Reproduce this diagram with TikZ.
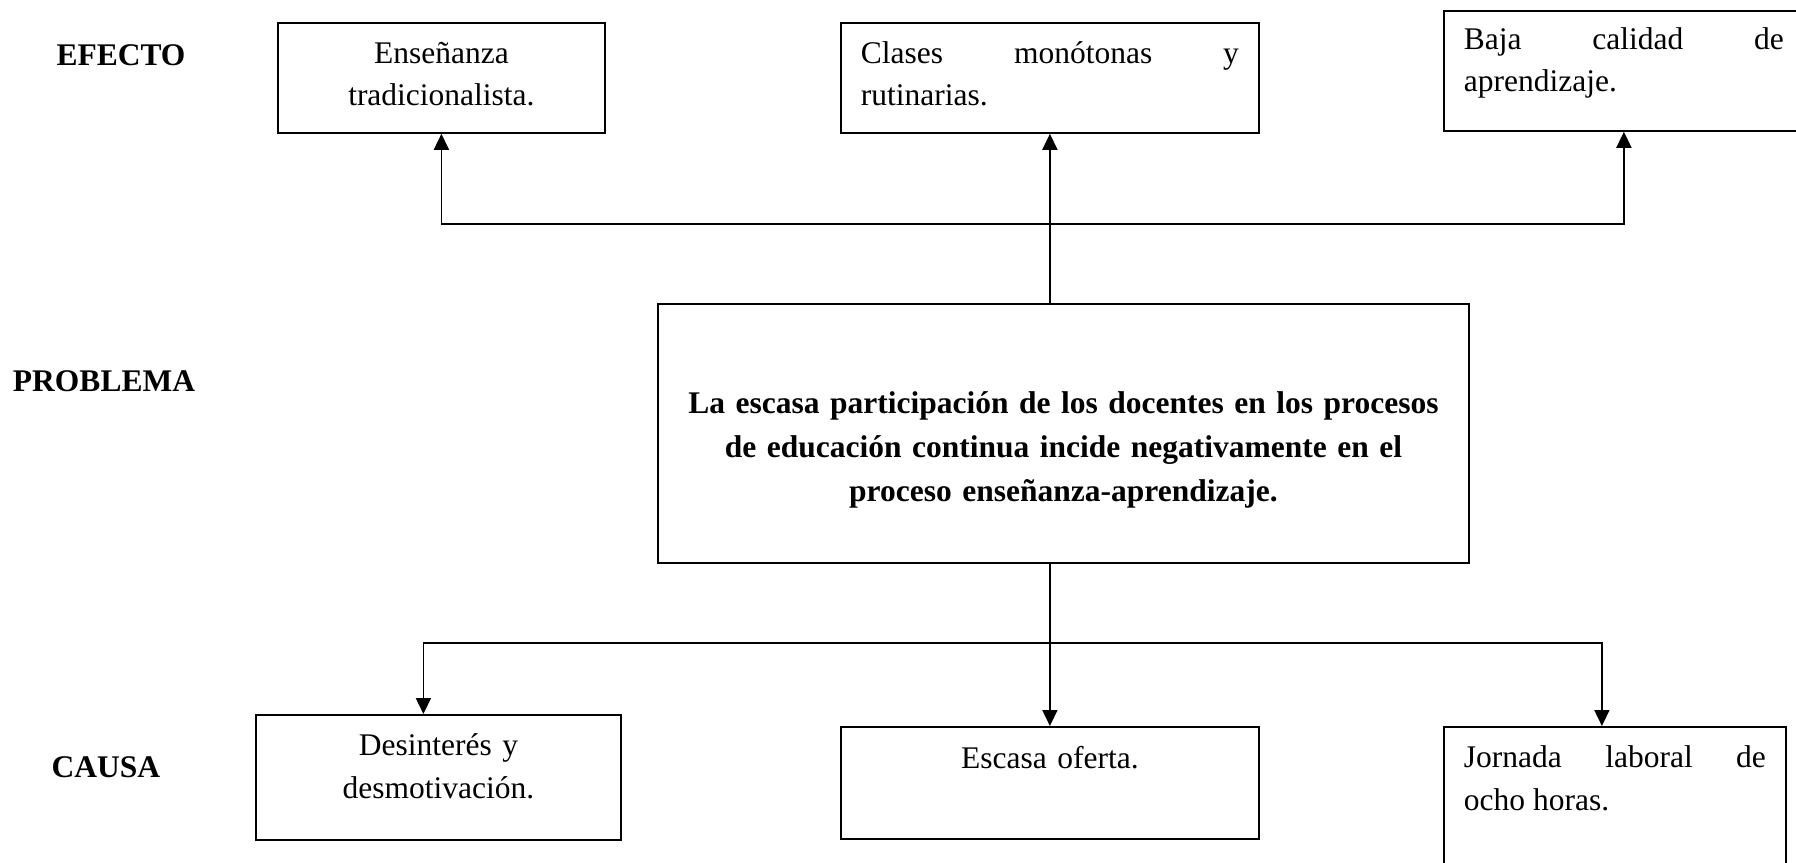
\documentclass[tikz,border=0pt]{standalone}
\usepackage{fontspec}
\setmainfont{Liberation Serif}
\usetikzlibrary{arrows.meta}

\begin{document}
\begin{tikzpicture}[x=1pt, y=-1pt]
  \tikzstyle{box} = [draw=black, line width=1.8pt, anchor=north west, inner xsep=20pt, inner ysep=0pt]
  \tikzstyle{effect} = [box, font=\fontsize{31.5}{42}\selectfont]
  \tikzstyle{cause} = [box, font=\fontsize{31.5}{43}\selectfont]
  \tikzstyle{problem} = [box, align=center, font=\fontsize{31.5}{44}\selectfont\bfseries]
  \tikzstyle{title} = [font=\fontsize{31.5}{38}\selectfont\bfseries]
  \tikzstyle{arrow} = [-{Triangle[length=16pt, width=15pt]}, line width=1.8pt]

  \useasboundingbox (0,0) rectangle (1796,862);

  \node[title] (efecto) at (121,55) {EFECTO};
  \node[title] (problema) at (104,381) {PROBLEMA};
  \node[title] (causa) at (106,767) {CAUSA};

  % efectos
  \node[effect, align=center, text width=287pt, text height=41pt, text depth=69pt] (ense) at (277,22) {Enseñanza\\tradicionalista.};
  \node[effect, align=justify, text width=378pt, text height=41pt, text depth=69pt] (clases) at (840,22) {Clases monótonas y\linebreak rutinarias.};
  \node[effect, align=justify, text width=320pt, text height=39pt, text depth=81pt] (baja) at (1443,10) {Baja calidad de\linebreak aprendizaje.};

  % problema
  \node[problem, text width=771pt, text height=110pt, text depth=149pt] (prob) at (657,303) {La escasa participación de los docentes en los procesos\\de educación continua incide negativamente en el\\proceso enseñanza-aprendizaje.};

  % causas
  \node[cause, align=center, text width=325pt, text height=41pt, text depth=84pt] (desi) at (255,714) {Desinterés y\\desmotivación.};
  \node[cause, align=center, text width=378pt, text height=42pt, text depth=70pt] (oferta) at (840,726) {Escasa oferta.};
  \node[cause, align=justify, text width=302pt, text height=41pt, text depth=200pt] (jornada) at (1443,726) {Jornada laboral de\linebreak ocho horas.};

  \coordinate (up) at (1049,224);
  \coordinate (down) at (1049,643);

  \draw[arrow] (clases.south |- prob.north) -- (clases.south);
  \draw[arrow] (up) -| (ense.south);
  \draw[arrow] (up) -| (baja.south);

  \draw[arrow] (oferta.north |- prob.south) -- (oferta.north);
  \draw[arrow] (down) -| ([xshift=-15pt]desi.north);
  \draw[arrow] (down) -| ([xshift=-13pt]jornada.north);
\end{tikzpicture}
\end{document}
